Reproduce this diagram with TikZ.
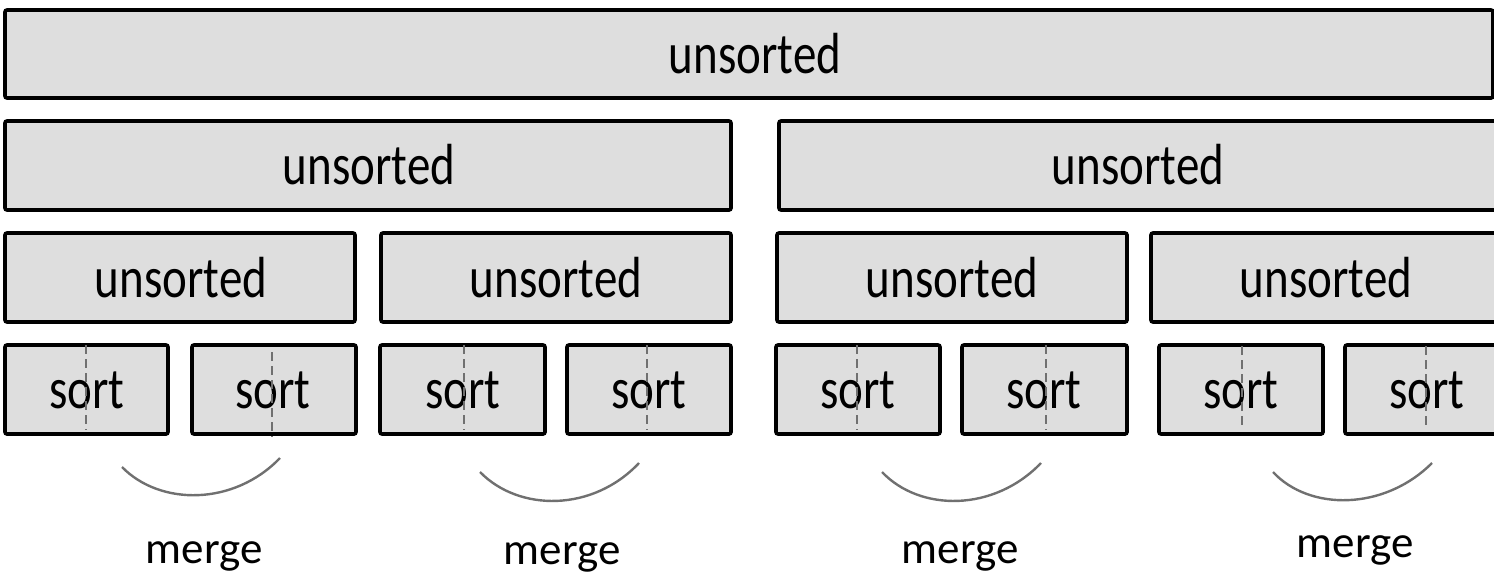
\documentclass[tikz,border=0pt]{standalone}
\usepackage{fontspec}
\setmainfont{Carlito}[FakeStretch=0.81]
\newfontfamily\mergefont{Carlito}
\definecolor{cellgray}{HTML}{DEDEDE}
\definecolor{arcgray}{HTML}{707070}
\begin{document}
\begin{tikzpicture}[x=0.5pt,y=-0.5pt,
    cell/.style={draw=black, line width=1.8pt, fill=cellgray, rounded corners=1pt},
    lbl/.style={anchor=base, inner sep=0pt, font=\fontsize{29}{34}\selectfont},
    mlbl/.style={anchor=base, inner sep=0pt, font=\mergefont\fontsize{22.5}{27}\selectfont},
    split/.style={draw=arcgray, line width=1.2pt, dash pattern=on 4.5pt off 2.5pt},
    mergearc/.style={draw=arcgray, line width=1.2pt}]
  \useasboundingbox (0,0) rectangle (1494,574);
  \clip (0,0) rectangle (1494,574);

  % Level 0
  \draw[cell] (5,10) rectangle (1493,98);
  \node[lbl] (top) at (755,73) {unsorted};

  % Level 1
  \draw[cell] (5,121) rectangle (731,210);
  \draw[cell] (779,121) rectangle (1496,210);
  \node[lbl] (halfA) at (369,184) {unsorted};
  \node[lbl] (halfB) at (1138,184) {unsorted};

  % Level 2
  \draw[cell] (5,233) rectangle (355,322);
  \draw[cell] (381,233) rectangle (731,322);
  \draw[cell] (777,233) rectangle (1127,322);
  \draw[cell] (1151,233) rectangle (1500,322);
  \node[lbl] (qA) at (181,297) {unsorted};
  \node[lbl] (qB) at (556,297) {unsorted};
  \node[lbl] (qC) at (952,297) {unsorted};
  \node[lbl] (qD) at (1326,297) {unsorted};

  % Level 3: sort
  \draw[cell] (5,345) rectangle (168,434);
  \draw[cell] (192,345) rectangle (356,434);
  \draw[cell] (380,345) rectangle (545,434);
  \draw[cell] (567,345) rectangle (731,434);
  \draw[cell] (776,345) rectangle (940,434);
  \draw[cell] (962,345) rectangle (1127,434);
  \draw[cell] (1159,345) rectangle (1323,434);
  \draw[cell] (1345,345) rectangle (1509,434);
  \node[lbl] (sA) at (87,408) {sort};
  \node[lbl] (sB) at (273,408) {sort};
  \node[lbl] (sC) at (463,408) {sort};
  \node[lbl] (sD) at (649,408) {sort};
  \node[lbl] (sE) at (858,408) {sort};
  \node[lbl] (sF) at (1044,408) {sort};
  \node[lbl] (sG) at (1241,408) {sort};
  \node[lbl] (sH) at (1427,408) {sort};

  % Split lines
  \draw[split] (86,345) -- (86,430);
  \draw[split] (272,352) -- (272,437);
  \draw[split] (464,345) -- (464,430);
  \draw[split] (647,345) -- (647,430);
  \draw[split] (857,345) -- (857,430);
  \draw[split] (1046,345) -- (1046,430);
  \draw[split] (1242,346) -- (1242,429);
  \draw[split] (1426,346) -- (1426,429);

  % Merge arcs
  \draw[mergearc] (122,467) .. controls (160,506) and (234,506) .. (280,458);
  \draw[mergearc] (480,472) .. controls (519,512) and (593,512) .. (639,463);
  \draw[mergearc] (882,472) .. controls (920,512) and (994,512) .. (1041,463);
  \draw[mergearc] (1273,472) .. controls (1309,511) and (1384,511) .. (1432,463);

  \node[mlbl] (mA) at (204,563) {merge};
  \node[mlbl] (mB) at (562,564) {merge};
  \node[mlbl] (mC) at (960,563) {merge};
  \node[mlbl] (mD) at (1355,557) {merge};
\end{tikzpicture}
\end{document}
